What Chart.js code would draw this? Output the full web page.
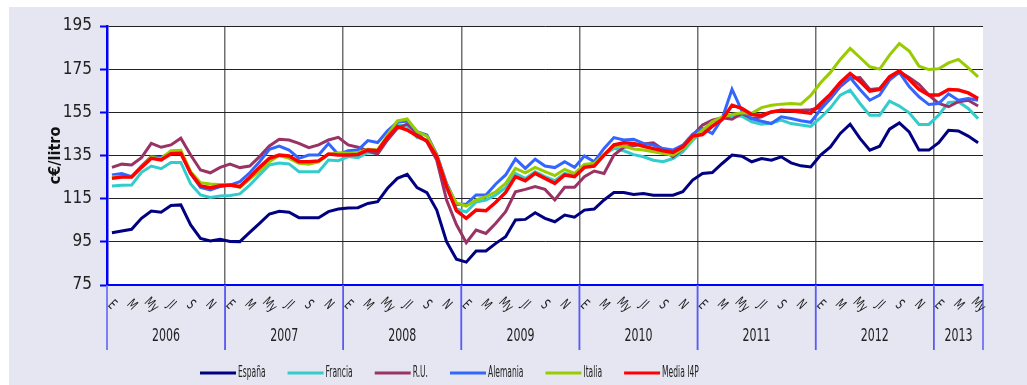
<!DOCTYPE html>
<html>
<head>
<meta charset="utf-8">
<script src="https://cdn.jsdelivr.net/npm/chart.js@4/dist/chart.umd.min.js"></script>
<style>
  html, body { margin: 0; padding: 0; background: #ffffff; }
  #wrap { width: 1027px; height: 385px; }
</style>
</head>
<body>
<div id="wrap"><canvas id="chart" width="1027" height="385"></canvas></div>
<script>
// Precio medio mensual (c€/litro), enero 2006 – mayo 2013
const years = ['2006', '2007', '2008', '2009', '2010', '2011', '2012', '2013'];
const monthLabels = ['E', '', 'M', '', 'My', '', 'Jl', '', 'S', '', 'N', ''];

const espana = [
  99.2, 100, 100.8, 105.9, 109.3, 108.7, 111.8, 112.1, 102.8, 96.6, 95.4, 96.2,
  95.2, 95.1, 99.4, 103.6, 107.9, 109.2, 108.7, 106.2, 106.2, 106.2, 109, 110.2,
  110.7, 110.8, 112.8, 113.6, 119.8, 124.4, 126.3, 120.1, 117.8, 109.7, 95.1, 86.9,
  85.6, 90.8, 90.8, 94.3, 97.4, 105.1, 105.4, 108.5, 105.9, 104.3, 107.4, 106.4,
  109.7, 110.2, 114.4, 117.8, 117.8, 116.9, 117.4, 116.6, 116.6, 116.6, 118.2, 123.6,
  126.7, 127.1, 131.3, 135.2, 134.7, 132.1, 133.6, 132.8, 134.4, 131.6, 130.2, 129.7,
  135.2, 139, 145.2, 149.5, 142.9, 137.5, 139.3, 147.2, 150.1, 145.9, 137.5, 137.5,
  140.9, 146.7, 146.4, 144, 140.9
];
const francia = [
  120.9, 121.2, 121.3, 127.2, 130.1, 128.9, 131.8, 131.8, 121.8, 116.7, 115.6, 116.2,
  116.5, 117.2, 121.3, 126, 130.6, 131.5, 131.1, 127.5, 127.5, 127.5, 132.9, 132.6,
  134.5, 134, 136.3, 136, 143.7, 149.1, 148.6, 143.4, 142.2, 134.5, 119.8, 110.2,
  108.8, 113.5, 114.4, 116.7, 120.1, 126.7, 124.4, 127.5, 125.2, 123.3, 126.7, 125.7,
  129.8, 131.1, 135.5, 138.3, 137.2, 135.4, 134.4, 132.8, 132.1, 133.6, 136.7, 142.1,
  146, 148.6, 152.1, 153.4, 153.2, 150.6, 149.5, 150.1, 151.4, 149.8, 149.1, 148.5,
  152.5, 157.1, 163, 165.3, 159.1, 153.7, 153.7, 160.2, 157.9, 154.8, 149.4, 149.4,
  153.7, 159.6, 159.9, 156.8, 152.1
];
const reinoUnido = [
  129.5, 131, 130.6, 134, 140.6, 138.8, 139.9, 143, 135.2, 128.3, 127, 129.5,
  131, 129.4, 130.1, 134.5, 139.4, 142.5, 142.2, 140.6, 138.6, 139.9, 142.2, 143.4,
  139.9, 138.8, 137.2, 135.7, 142.2, 147.6, 149.6, 145.3, 141.4, 132.9, 114.4, 103,
  94.6, 100.5, 98.9, 103.6, 109, 118.2, 119.3, 120.6, 119.3, 114.4, 120.3, 120.3,
  125.2, 127.8, 126.7, 135.2, 138.8, 139.5, 140.3, 140.9, 137.8, 134.4, 138.2, 144.4,
  149.1, 151.4, 152.5, 151.8, 154.5, 152.1, 152.9, 155.2, 155.7, 156, 156, 156.2,
  157.2, 161.4, 166.9, 170.7, 171.1, 165.6, 166.1, 171.4, 173.8, 171.1, 168, 163,
  159.1, 157.6, 159.9, 160.6, 157.9
];
const alemania = [
  126, 126.7, 125.2, 130.1, 134.5, 134, 136.5, 136.5, 126.7, 120.2, 119, 120.6,
  121.3, 122.9, 127, 132.1, 137.9, 139.4, 137.5, 133.7, 135.2, 135.2, 140.6, 135.5,
  137.2, 137.5, 141.9, 141, 146.4, 150.4, 151, 146.1, 144.5, 135.5, 122.1, 112.3,
  112.5, 116.7, 116.7, 121.8, 126, 133.4, 129, 133.3, 130.1, 129.4, 132.1, 129.5,
  134.8, 132.1, 138.3, 143.3, 142.2, 142.5, 140.6, 139.8, 138.2, 137.5, 139.8, 144.9,
  147.5, 145.2, 152.1, 165.7, 155.7, 152.1, 150.9, 149.8, 152.9, 152.1, 151.1, 150.4,
  156.3, 161.4, 167.3, 171.1, 165.6, 160.6, 163, 169.9, 173.5, 166.9, 162.2, 158.6,
  159.1, 163.5, 160.6, 161.4, 160.6
];
const italia = [
  125.2, 125.2, 125.2, 129.8, 134.2, 133.5, 137.2, 137.4, 127.5, 122.4, 121.8, 121.6,
  121.3, 120.2, 124.1, 127.8, 132.1, 135, 133.7, 131.4, 130.9, 132.1, 135.5, 136.3,
  136, 136.3, 137.9, 137.5, 144.5, 151, 151.9, 146.1, 144, 135.2, 121.3, 113,
  111.6, 114.4, 115.9, 118.2, 122.1, 129, 127, 129.5, 127.5, 125.7, 128.6, 126.7,
  130.9, 131.4, 135.5, 139.1, 139.4, 138, 137.5, 136.7, 135.9, 135.2, 138.2, 142.9,
  146.7, 150.6, 152.9, 154, 154.8, 154.5, 157.2, 158.3, 158.8, 159.1, 158.8, 162.8,
  168.7, 173.5, 179.5, 184.6, 180.4, 176.1, 175, 181.5, 186.9, 183.4, 176.4, 174.8,
  175.2, 177.9, 179.5, 175.6, 171.4
];
const mediaI4P = [
  124.4, 125, 125, 129.5, 133.7, 132.9, 135.8, 136, 126.7, 120.9, 120.1, 121,
  121.3, 120.6, 124.9, 129.5, 133.7, 135.2, 134.8, 132.1, 132.1, 132.5, 135.7, 135.2,
  135.2, 135.5, 137.5, 137.2, 143.4, 148.4, 146.8, 144, 141.7, 134.5, 120.6, 109.4,
  105.9, 109.7, 109.4, 113.3, 117.9, 125.2, 123.3, 126.7, 124.4, 122.1, 126, 125.2,
  129.5, 130.1, 135.2, 139.9, 140.9, 140.6, 139.3, 138.2, 137.2, 136.4, 139, 144,
  144.7, 148.6, 151.7, 158.3, 156.8, 154, 153.7, 155.2, 156, 155.7, 155.2, 154.6,
  159.1, 163.4, 168.8, 173, 169.4, 164.8, 165.6, 171.4, 174.2, 170.2, 165.7, 163,
  163, 165.6, 165.3, 164, 161.4
];

// One category per month, from January of the first year
const categories = [];
for (let i = 0; i < espana.length; i++) {
  categories.push(years[Math.floor(i / 12)] + '-' + (i % 12 + 1));
}

const FONT = "'Liberation Sans Narrow', 'DejaVu Sans Condensed', 'Open Sans', sans-serif";
const TEXT = '#222222';
const BG = '#e6e6f2';

function series(label, data, color, order, width) {
  return {
    label, data, order,
    borderColor: color, backgroundColor: color,
    borderWidth: width || 3, pointRadius: 0, pointHoverRadius: 0,
    tension: 0, fill: false
  };
}

// Frame, year bands, rotated month labels and legend
const decorations = {
  id: 'decorations',
  beforeDraw(chart) {
    const { ctx, chartArea: a } = chart;
    ctx.save();
    ctx.fillStyle = '#ffffff';
    ctx.fillRect(0, 0, chart.width, chart.height);
    ctx.fillStyle = BG;
    ctx.fillRect(9, 7, chart.width - 9, chart.height - 7);
    ctx.fillStyle = '#ffffff';
    ctx.fillRect(a.left, a.top, a.right - a.left, a.bottom - a.top);
    ctx.restore();
  },
  afterDraw(chart) {
    const { ctx, chartArea: a } = chart;
    const xs = chart.scales.x;
    const n = categories.length;
    const half = (xs.getPixelForValue(1) - xs.getPixelForValue(0)) / 2;
    ctx.save();

    // year separators and year labels under the axis
    ctx.strokeStyle = '#5a5af5';
    ctx.lineWidth = 1.5;
    ctx.fillStyle = TEXT;
    ctx.font = '17px ' + FONT;
    ctx.textAlign = 'center';
    ctx.textBaseline = 'middle';
    for (let k = 0; k < years.length; k++) {
      const s = k * 12;
      if (s >= n) break;
      const e = Math.min(s + 11, n - 1);
      const left = xs.getPixelForValue(s) - half;
      const right = xs.getPixelForValue(e) + half;
      [left, right].forEach(px => {
        ctx.beginPath();
        ctx.moveTo(px, a.bottom);
        ctx.lineTo(px, a.bottom + 65);
        ctx.stroke();
      });
      ctx.save();
      ctx.translate((left + right) / 2, a.bottom + 52);
      ctx.scale(0.72, 1);
      ctx.fillText(years[k], 0, 0);
      ctx.restore();
    }

    // month labels, turned 45 degrees
    ctx.font = '14px ' + FONT;
    for (let i = 0; i < n; i++) {
      const t = monthLabels[i % 12];
      if (!t) continue;
      ctx.save();
      ctx.translate(xs.getPixelForValue(i), a.bottom + 20);
      ctx.rotate(Math.PI / 4);
      ctx.scale(0.75, 1);
      ctx.fillText(t, 0, 0);
      ctx.restore();
    }

    // legend
    ctx.font = '15px ' + FONT;
    ctx.textAlign = 'left';
    const sx = 0.56;
    let x = 200;
    const y = 373;
    chart.data.datasets.forEach(ds => {
      ctx.strokeStyle = ds.borderColor;
      ctx.lineWidth = 3;
      ctx.beginPath();
      ctx.moveTo(x, y);
      ctx.lineTo(x + 36, y);
      ctx.stroke();
      ctx.save();
      ctx.translate(x + 38, y);
      ctx.scale(sx, 1);
      ctx.fillText(ds.label, 0, 0);
      ctx.restore();
      x += 38 + ctx.measureText(ds.label).width * sx + 22;
    });
    ctx.restore();
  }
};

new Chart(document.getElementById('chart'), {
  type: 'line',
  data: {
    labels: categories,
    datasets: [
      series('España', espana, '#000080', 6),
      series('Francia', francia, '#33cccc', 5),
      series('R.U.', reinoUnido, '#993366', 4),
      series('Alemania', alemania, '#3366ff', 3),
      series('Italia', italia, '#99cc00', 2),
      series('Media I4P', mediaI4P, '#ff0000', 1, 3.5)
    ]
  },
  options: {
    responsive: false,
    animation: false,
    devicePixelRatio: 1,
    layout: { padding: { top: 26, right: 44, left: 0, bottom: 0 } },
    plugins: { legend: { display: false }, tooltip: { enabled: false } },
    scales: {
      x: {
        type: 'category',
        offset: true,
        ticks: { display: false, autoSkip: false },
        grid: {
          offset: true,
          drawTicks: false,
          lineWidth: 1.5,
          color: c => (c.index !== undefined && c.index > 0 && c.index % 12 === 0) ? '#707070' : 'rgba(0,0,0,0)'
        },
        border: { color: '#0000ff', width: 2 },
        afterFit: s => { s.height = 100; }
      },
      y: {
        min: 75,
        max: 195,
        ticks: {
          stepSize: 20,
          color: TEXT,
          padding: 8,
          font: { family: FONT, size: 17 }
        },
        grid: {
          color: '#222222',
          lineWidth: 1,
          tickColor: '#0000ff',
          tickWidth: 2,
          tickLength: 7
        },
        border: { color: '#0000ff', width: 2.5 },
        title: {
          display: true,
          text: 'c€/litro',
          color: '#111111',
          font: { family: FONT, size: 16, weight: 'bold' },
          padding: { top: 46, bottom: 0 }
        },
        afterFit: s => { s.width = 107; }
      }
    }
  },
  plugins: [decorations]
});
</script>
</body>
</html>
